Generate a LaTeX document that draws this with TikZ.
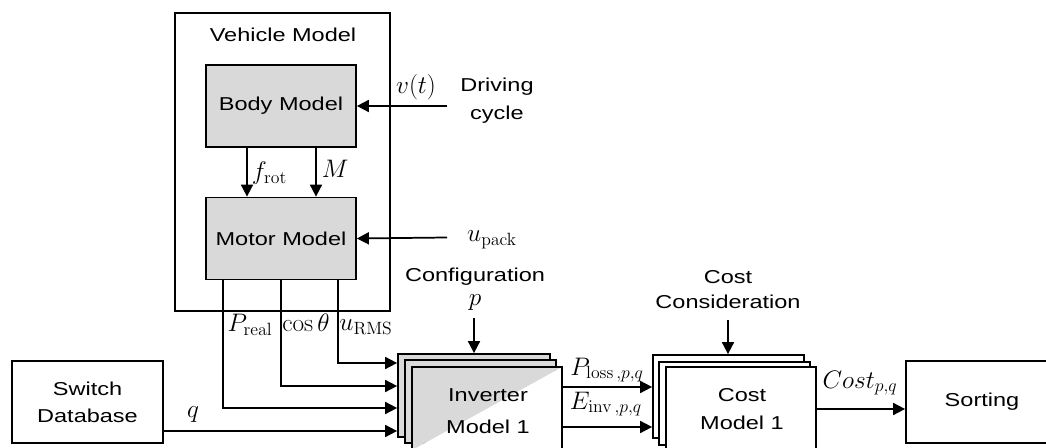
\RequirePackage{fix-cm}
\documentclass[tikz,border=0pt]{standalone}
\usepackage[no-math]{fontspec}
\setmainfont{Liberation Sans}[FakeStretch=1.26]
\usetikzlibrary{arrows.meta}
\definecolor{boxgray}{HTML}{D9D9D9}
\begin{document}
\begin{tikzpicture}[x=0.75pt,y=-0.75pt,
  every node/.style={font=\fontsize{14}{20}\selectfont},
  blk/.style={draw, line width=1.3pt, inner sep=0pt, align=center},
  gblk/.style={blk, fill=boxgray},
  wblk/.style={blk, fill=white},
  lbl/.style={inner sep=0.5pt, align=center},
  mlbl/.style={inner sep=0.5pt, font=\fontsize{19}{22}\selectfont},
  conn/.style={line width=1.3pt, -{Triangle[length=9pt,width=9pt]}},
  wire/.style={line width=1.3pt}]
\useasboundingbox (0,0) rectangle (1046,448);
% Vehicle model
\node[blk, minimum width=215*0.75pt, minimum height=298*0.75pt] (veh) at (282.5,162) {};
\node[lbl] (vehl) at (283,35) {Vehicle Model};
\node[gblk, minimum width=150*0.75pt, minimum height=82*0.75pt] (body) at (281,106) {Body Model};
\node[gblk, minimum width=150*0.75pt, minimum height=82*0.75pt] (motor) at (281,238.5) {Motor Model};
% external inputs
\coordinate (vin) at (447,106);
\coordinate (uin) at (447,237.5);
\node[mlbl] (vt) at (416,87) {$v(t)$};
\node[lbl] (drv) at (497,101) {Driving\\[1pt]cycle};
\node[mlbl] (upack) at (492,240) {$u_{\mathrm{pack}}$};
\draw[conn] (vin) -- (body.east);
\draw[conn] (uin) -- (motor.east);
% body -> motor
\draw[conn] (body.south -| 247,0) -- (motor.north -| 247,0);
\draw[conn] (body.south -| 316,0) -- (motor.north -| 316,0);
\node[mlbl, anchor=west] (frot) at (251,173) {$f_{\mathrm{rot}}$};
\node[mlbl, anchor=west] (mm) at (321,169) {$M$};
% Switch database & sorting
\node[wblk, minimum width=151*0.75pt, minimum height=82*0.75pt] (sw) at (87.5,402) {Switch\\Database};
\node[wblk, minimum width=152*0.75pt, minimum height=82*0.75pt] (sort) at (982,402) {Sorting};
% Inverter stack
\node[gblk, minimum width=152*0.75pt, minimum height=83*0.75pt] (invc) at (474,395.5) {};
\node[gblk, minimum width=151*0.75pt, minimum height=83*0.75pt] (invb) at (480.5,401.5) {};
\node[inner sep=0pt, minimum width=150*0.75pt, minimum height=83*0.75pt] (inv) at (487,408.5) {};
\fill[white] (inv.north east) -- (inv.south east) -- (inv.south west) -- cycle;
\fill[boxgray] (inv.north west) -- (inv.north east) -- (inv.south west) -- cycle;
\draw[line width=1.3pt] (inv.south west) rectangle (inv.north east);
\node[lbl] (invl) at (488,411) {Inverter\\[4pt]Model 1};
% Cost stack
\node[wblk, minimum width=151*0.75pt, minimum height=83*0.75pt] (costc) at (728.5,396.5) {};
\node[wblk, minimum width=151*0.75pt, minimum height=83*0.75pt] (costb) at (734.5,403.5) {};
\node[wblk, minimum width=150*0.75pt, minimum height=83*0.75pt] (cost) at (741,408.5) {};
\node[lbl] (costl) at (742,409) {Cost\\[1pt]Model 1};
% configuration
\node[lbl] (conf) at (475,277) {Configuration};
\node[mlbl, inner sep=0pt] (pp) at (475,303) {$p$};
\coordinate (confs) at (474,318);
\draw[conn] (confs) -- (invc.north -| confs);
\node[lbl] (cc) at (728,289.5) {Cost\\[-1pt]Consideration};
\coordinate (ccs) at (728,320);
\draw[conn] (ccs) -- (costc.north -| ccs);
% motor outputs
\coordinate (o1) at (223,408);
\coordinate (o2) at (281,386);
\coordinate (o3) at (338,363);
\draw[conn] (motor.south -| o1) |- (invc.west |- o1);
\draw[conn] (motor.south -| o2) |- (invc.west |- o2);
\draw[conn] (motor.south -| o3) |- (invc.west |- o3);
\node[mlbl] (preal) at (250,325) {$P_{\mathrm{real}}$};
\node[mlbl] (cth) at (306,323) {$\cos\theta$};
\node[mlbl] (urms) at (366,327) {$u_{\mathrm{RMS}}$};
% q
\coordinate (qy) at (0,431);
\draw[conn] (sw.east |- qy) -- (invc.west |- qy);
\node[mlbl] (ql) at (193,415) {$q$};
% inverter -> cost
\coordinate (ly) at (0,387);
\coordinate (ey) at (0,427);
\draw[conn] (inv.east |- ly) -- (costc.west |- ly);
\draw[conn] (inv.east |- ey) -- (costc.west |- ey);
\node[mlbl] (plab) at (607,370) {$P_{\mathrm{loss}\,,p,q}$};
\node[mlbl] (elab) at (606,404) {$E_{\mathrm{inv}\,,p,q}$};
% cost -> sorting
\coordinate (cy) at (0,409);
\draw[conn] (cost.east |- cy) -- (sort.west |- cy);
\node[mlbl] (clab) at (860,383) {$Cost_{p,q}$};
\end{tikzpicture}
\end{document}
